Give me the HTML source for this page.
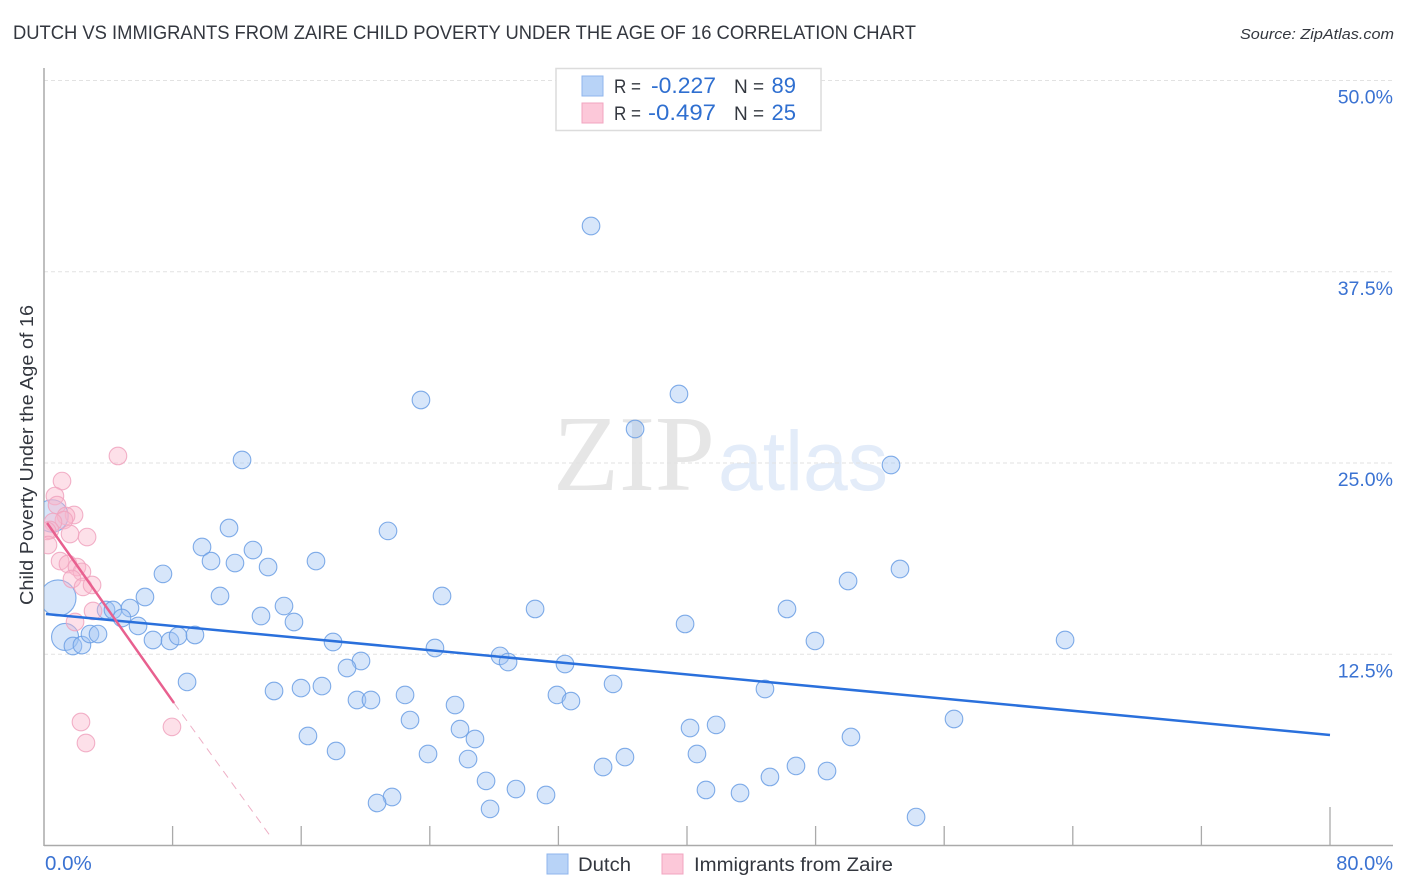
<!DOCTYPE html>
<html lang="en">
<head>
<meta charset="utf-8">
<title>Dutch vs Immigrants from Zaire Child Poverty Correlation Chart</title>
<style>
html,body{margin:0;padding:0;background:#fff;}
svg{display:block;font-family:"Liberation Sans",sans-serif;}
</style>
</head>
<body>
<svg id="chart" width="1406" height="892" viewBox="0 0 1406 892" xmlns="http://www.w3.org/2000/svg">
  <defs><clipPath id="plot-clip"><rect x="44" y="60" width="1349" height="785"/></clipPath></defs>
  <g>
    <text x="553" y="490" font-family="'Liberation Serif',serif" font-size="108" fill="#e6e6e6" textLength="162" lengthAdjust="spacingAndGlyphs">ZIP</text>
    <text x="718" y="490" font-size="84" fill="#e3ecf9" textLength="170" lengthAdjust="spacingAndGlyphs">atlas</text>
  </g>
  <g id="grid"></g>
  <g id="axes"></g>
  <g id="dots" clip-path="url(#plot-clip)"></g>
  <g id="trends"></g>
  <g id="labels"></g>

  <text x="13" y="39" font-size="19" fill="#33373f" textLength="903" lengthAdjust="spacingAndGlyphs">DUTCH VS IMMIGRANTS FROM ZAIRE CHILD POVERTY UNDER THE AGE OF 16 CORRELATION CHART</text>
  <text x="1394" y="39" font-size="15" font-style="italic" fill="#33373f" text-anchor="end" textLength="154" lengthAdjust="spacingAndGlyphs">Source: ZipAtlas.com</text>
  <text transform="translate(33,455) rotate(-90)" font-size="18" fill="#33373f" text-anchor="middle" textLength="300" lengthAdjust="spacingAndGlyphs">Child Poverty Under the Age of 16</text>

  <g>
    <rect x="556" y="68.500" width="265" height="62" fill="#fff" stroke="#dcdcdc" stroke-width="1.500"/>
    <rect x="582" y="76" width="21" height="20" fill="#b8d3f7" stroke="#8fb6ec" stroke-width="1"/>
    <rect x="582" y="103" width="21" height="20" fill="#fcc8d9" stroke="#f2a5c0" stroke-width="1"/>
    <text x="614" y="93" font-size="19" fill="#33373f" textLength="27" lengthAdjust="spacingAndGlyphs">R =</text>
    <text x="651" y="93" font-size="22" fill="#2f6fd0" textLength="65" lengthAdjust="spacingAndGlyphs">-0.227</text>
    <text x="734" y="93" font-size="19" fill="#33373f">N =</text>
    <text x="796" y="93" font-size="22" fill="#2f6fd0" text-anchor="end">89</text>
    <text x="614" y="120" font-size="19" fill="#33373f" textLength="27" lengthAdjust="spacingAndGlyphs">R =</text>
    <text x="648" y="120" font-size="22" fill="#2f6fd0" textLength="68" lengthAdjust="spacingAndGlyphs">-0.497</text>
    <text x="734" y="120" font-size="19" fill="#33373f">N =</text>
    <text x="796" y="120" font-size="22" fill="#2f6fd0" text-anchor="end">25</text>
  </g>

  <g>
    <rect x="547" y="854" width="21" height="20" fill="#b8d3f7" stroke="#8fb6ec" stroke-width="1"/>
    <text x="578" y="871" font-size="19" fill="#33373f" textLength="53" lengthAdjust="spacingAndGlyphs">Dutch</text>
    <rect x="662" y="854" width="21" height="20" fill="#fcc8d9" stroke="#f2a5c0" stroke-width="1"/>
    <text x="694" y="871" font-size="19" fill="#33373f" textLength="199" lengthAdjust="spacingAndGlyphs">Immigrants from Zaire</text>
  </g>
</svg>
<script>
const yTickValues = [12.5, 25, 37.5, 50];
const yTickLabels = ['12.5%', '25.0%', '37.5%', '50.0%'];
const xTickValues = [8, 16, 24, 32, 40, 48, 56, 64, 72, 80];
const xEndLabels = ['0.0%', '80.0%'];

const dutchX = [34.03,23.45,39.50,36.77,12.32,52.69,11.51,21.40,9.83,13.00,10.39,11.88,16.92,13.94,7.40,53.25,50.02,6.28,10.95,24.76,14.93,30.55,46.22,13.50,15.55,39.88,0.87,3.86,4.29,5.35,4.85,5.85,6.78,7.84,8.34,9.39,8.90,1.31,1.80,2.36,2.86,3.36,0.50,17.98,24.32,47.96,63.52,19.72,18.85,28.37,28.87,32.41,35.40,44.85,14.31,15.99,17.29,31.91,22.46,19.47,20.34,32.78,25.57,22.77,56.61,25.88,40.19,41.81,16.42,26.81,50.20,18.17,23.89,40.62,26.38,36.14,34.78,46.78,48.71,45.16,27.50,29.36,41.18,43.30,31.23,21.65,20.72,27.75,54.25];
const dutchY = [40.49,29.12,29.51,27.22,25.20,24.87,20.75,20.56,19.51,19.31,18.59,18.46,18.59,18.20,17.75,18.07,17.29,16.24,16.31,16.31,15.65,15.46,15.46,15.00,14.61,14.48,16.18,15.39,15.39,15.52,14.87,14.35,13.43,13.37,13.69,13.76,10.69,13.63,13.04,13.10,13.82,13.82,21.54,13.30,12.91,13.37,13.43,12.06,11.60,12.39,11.99,11.86,10.56,10.23,10.10,10.29,10.42,9.84,9.84,9.51,9.51,9.44,9.18,8.20,8.27,7.61,7.68,7.88,7.16,6.96,7.09,6.18,5.98,5.98,5.65,5.78,5.13,5.20,4.87,4.48,4.22,3.69,3.63,3.43,3.30,3.17,2.78,2.39,1.86];
const dutchLargeIndex = [26, 37, 42];
const dutchLargeWeight = [4, 1.5, 3.6];

const zaireX = [4.60,1.12,0.68,0.81,1.87,1.37,1.24,0.56,0.37,0.19,1.62,2.68,0.25,1.00,1.49,2.05,2.36,1.74,2.43,2.99,3.05,1.93,2.30,2.61,7.96];
const zaireY = [25.46,23.82,22.84,22.25,21.60,21.54,21.27,21.14,20.62,20.56,20.36,20.16,19.64,18.59,18.40,18.20,17.88,17.42,16.90,17.03,15.33,14.61,8.07,6.70,7.75];

const dutchTrendX = [0.12, 80];
const dutchTrendY = [15.13, 7.22];
const zaireTrendX = [0.19, 8.09];
const zaireTrendY = [21.08, 9.31];
const zaireExtrapX = [8.09, 14.12];
const zaireExtrapY = [9.31, 0.56];

const xScale = v => 44 + v * 16.075;
const yScale = v => 845.5 - v * 15.3;
const NS = 'http://www.w3.org/2000/svg';
function make(tag, attrs, parent, text) {
  const el = document.createElementNS(NS, tag);
  Object.keys(attrs).forEach(k => el.setAttribute(k, attrs[k]));
  if (text !== undefined) el.textContent = text;
  parent.appendChild(el);
  return el;
}
const grid = document.getElementById('grid');
const axes = document.getElementById('axes');
const dots = document.getElementById('dots');
const trends = document.getElementById('trends');
const labels = document.getElementById('labels');

yTickValues.forEach((v, i) => {
  const g = make('line', {x1: 44, x2: 1393, y1: yScale(v), y2: yScale(v), stroke: '#e2e2e2', 'stroke-width': 1, 'stroke-dasharray': '4 3'}, grid);
  
  
  const t = make('text', {x: 1393, y: yScale(v) + 23, 'font-size': 19.5, fill: '#3a72d2', 'text-anchor': 'end'}, labels, yTickLabels[i]);
  
  
});

const yAxis = make('line', {x1: 44, x2: 44, y1: 68, y2: 846, stroke: '#aaaaaa', 'stroke-width': 1.500}, axes);


const xAxis = make('line', {x1: 44, x2: 1393, y1: 845.5, y2: 845.5, stroke: '#aaaaaa', 'stroke-width': 1.500}, axes);


xTickValues.forEach((v, i) => {
  const top = i === xTickValues.length - 1 ? 807 : 826;
  const tick = make('line', {x1: xScale(v), x2: xScale(v), y1: top, y2: 845, stroke: '#aaaaaa', 'stroke-width': 1.300}, axes);
  
  
});
const x0 = make('text', {x: 45, y: 870, 'font-size': 20.5, fill: '#3a72d2'}, labels, xEndLabels[0]);


const x1 = make('text', {x: 1393, y: 870, 'font-size': 20, fill: '#3a72d2', 'text-anchor': 'end'}, labels, xEndLabels[1]);



dutchX.forEach((v, i) => {
  const k = dutchLargeIndex.indexOf(i);
  const r = k >= 0 ? 9 * dutchLargeWeight[k] / (k === 1 ? 1 : 2) : 8.8;
  const c = make('circle', {cx: xScale(v), cy: yScale(dutchY[i]), r: r, fill: 'rgba(160,196,243,0.42)', stroke: '#6a9ee4', 'stroke-width': 1.100, 'stroke-opacity': 0.85}, dots);
  
  
});
zaireX.forEach((v, i) => {
  const c = make('circle', {cx: xScale(v), cy: yScale(zaireY[i]), r: 8.8, fill: 'rgba(250,180,203,0.42)', stroke: '#f0a3be', 'stroke-width': 1.100, 'stroke-opacity': 0.85}, dots);
  
  
});

const blueLine = make('line', {x1: xScale(dutchTrendX[0]), y1: yScale(dutchTrendY[0]), x2: xScale(dutchTrendX[1]), y2: yScale(dutchTrendY[1]), stroke: '#2a70dc', 'stroke-width': 2.500}, trends);


const pinkLine = make('line', {x1: xScale(zaireTrendX[0]), y1: yScale(zaireTrendY[0]), x2: xScale(zaireTrendX[1]), y2: yScale(zaireTrendY[1]), stroke: '#e8608f', 'stroke-width': 2.500}, trends);


const pinkDash = make('line', {x1: xScale(zaireExtrapX[0]), y1: yScale(zaireExtrapY[0]), x2: xScale(zaireExtrapX[1]), y2: yScale(zaireExtrapY[1]), stroke: '#eeb0c6', 'stroke-width': 1, 'stroke-dasharray': '8 6'}, trends);


</script>
</body>
</html>
